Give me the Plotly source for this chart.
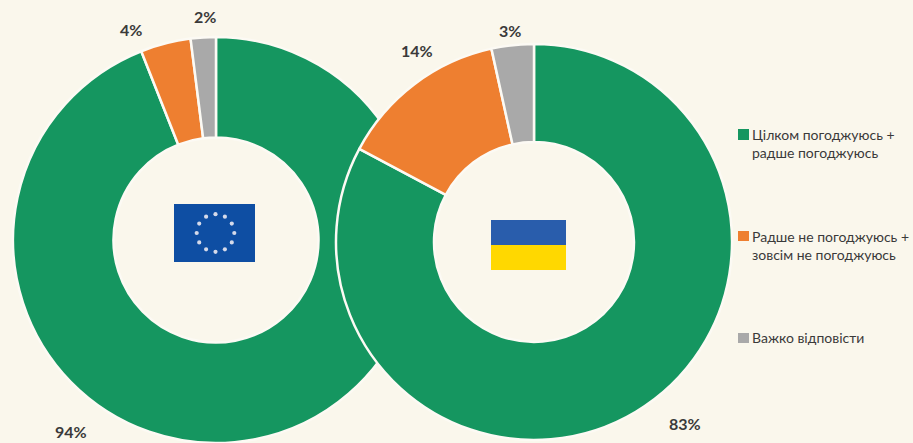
import math
import plotly.graph_objects as go

W, H = 913, 443
categories = ["Цілком погоджуюсь + радше погоджуюсь", "Радше не погоджуюсь + зовсім не погоджуюсь", "Важко відповісти"]
eu_values = [94, 4, 2]
ua_values = [82.8, 13.75, 3.45]
legend_lines = ["Цілком погоджуюсь +<br>радше погоджуюсь", "Радше не погоджуюсь +<br>зовсім не погоджуюсь", "Важко відповісти"]
colors = ["#159660", "#EE7F30", "#A9A9A9"]
BG = "#FAF7EC"
TXT = "#3A3A3A"
FONT = "Lato, Open Sans, sans-serif"

def px(x): return x / W
def py(y): return 1 - y / H

def pie(vals, cx, cy, r, name):
    return go.Pie(labels=categories, values=vals, name=name, sort=False, direction="clockwise", rotation=0,
                  hole=0.505, textinfo="none", showlegend=False,
                  marker=dict(colors=colors, line=dict(color="#FCFAF4", width=2.5)),
                  domain=dict(x=[px(cx - r), px(cx + r)], y=[py(cy + r), py(cy - r)]))

fig = go.Figure([pie(eu_values, 216, 240, 203, "ЄС"), pie(ua_values, 534, 242, 198, "Україна")])

shapes = []
def rect(x0, y0, x1, y1, c):
    shapes.append(dict(type="rect", xref="paper", yref="paper", x0=px(x0), x1=px(x1), y0=py(y1), y1=py(y0),
                       fillcolor=c, line_width=0, layer="above"))

rect(174, 204, 255, 262, "#0E4EA3")
for i in range(12):
    a = math.radians(i * 30)
    sx, sy = 215.5 + 18.8 * math.sin(a), 233 - 18.8 * math.cos(a)
    shapes.append(dict(type="circle", xref="paper", yref="paper", x0=px(sx - 2.1), x1=px(sx + 2.1),
                       y0=py(sy + 2.1), y1=py(sy - 2.1), fillcolor="#D5DAEA", line_width=0, layer="above"))
rect(491, 220, 566, 245, "#295DAC")
rect(491, 245, 566, 270, "#FFD800")
rect(738, 129, 749, 140, colors[0])
rect(738, 231, 749, 241, colors[1])
rect(738, 333, 749, 343, colors[2])

annotations = []
def label(x, y, t, size, bold=False, align="center", anchor="center"):
    annotations.append(dict(xref="paper", yref="paper", x=px(x), y=py(y), text=f"<b>{t}</b>" if bold else t,
                            showarrow=False, xanchor=anchor, yanchor="middle", align=align,
                            font=dict(family=FONT, size=size, color=TXT)))

for x, y, t in [(71, 431, eu_values[0]), (131, 29, eu_values[1]), (205, 17, eu_values[2]),
                (685, 423, ua_values[0]), (417, 51, ua_values[1]), (510, 31, ua_values[2])]:
    label(x, y, f"{round(t)}%", 16, bold=True)

label(750, 143, legend_lines[0], 14, align="left", anchor="left")
label(750, 245, legend_lines[1], 14, align="left", anchor="left")
label(750, 337, legend_lines[2], 14, align="left", anchor="left")

fig.update_layout(width=W, height=H, margin=dict(l=0, r=0, t=0, b=0), paper_bgcolor=BG, plot_bgcolor=BG,
                  shapes=shapes, annotations=annotations, font=dict(family=FONT))
fig.write_html("out.html", config={"displayModeBar": False},
               post_script="document.body.style.margin='0';document.documentElement.style.overflow='hidden';")
